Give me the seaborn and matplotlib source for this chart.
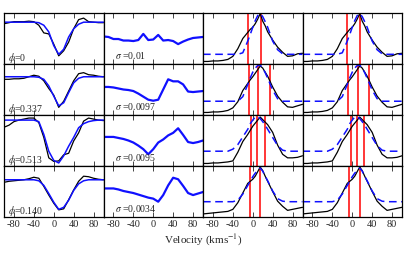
import matplotlib
matplotlib.use('Agg')
import matplotlib.pyplot as plt
import seaborn as sns

sns.set_theme(style='ticks')
plt.rcParams['font.family'] = ['Liberation Serif', 'DejaVu Serif']
plt.rcParams['mathtext.fontset'] = 'stix'
plt.rcParams['axes.unicode_minus'] = False

# velocity grids (km/s)
vel = [-100, -90, -80, -70, -60, -50, -40, -30, -20, -10, 0,
       10, 20, 30, 40, 50, 60, 70, 80, 90, 100]
vel_em = [-100, -90, -80, -70, -60, -50, -40, -30, -20, -10, -5, 0, 5,
          10, 15, 20, 25, 30, 40, 50, 60, 70, 80, 90, 100]

phases = ['0', '0.337', '0.513', '0.140']
sigmas = ['0.01', '0.0097', '0.0095', '0.0034']

# column 1: observed absorption profile (black) and model (blue)
obs_abs_0 = [0.79, 0.81, 0.83, 0.83, 0.83, 0.84, 0.83, 0.76, 0.61, 0.59, 0.39,
             0.16, 0.26, 0.43, 0.69, 0.87, 0.90, 0.83, 0.82, 0.81, 0.81]
mod_abs_0 = [0.82, 0.82, 0.82, 0.82, 0.82, 0.82, 0.82, 0.81, 0.76, 0.63, 0.36,
             0.19, 0.29, 0.53, 0.69, 0.78, 0.82, 0.82, 0.82, 0.82, 0.82]
obs_abs_1 = [0.70, 0.70, 0.71, 0.71, 0.72, 0.75, 0.78, 0.76, 0.67, 0.52, 0.39,
             0.15, 0.27, 0.47, 0.67, 0.81, 0.83, 0.79, 0.78, 0.76, 0.75]
mod_abs_1 = [0.75, 0.75, 0.75, 0.75, 0.75, 0.75, 0.75, 0.74, 0.70, 0.57, 0.37,
             0.18, 0.24, 0.44, 0.63, 0.72, 0.75, 0.75, 0.75, 0.75, 0.75]
obs_abs_2 = [0.76, 0.80, 0.87, 0.90, 0.92, 0.94, 0.94, 0.85, 0.56, 0.16, 0.09,
             0.10, 0.22, 0.25, 0.49, 0.65, 0.88, 0.94, 0.92, 0.90, 0.89]
mod_abs_2 = [0.90, 0.90, 0.90, 0.90, 0.90, 0.90, 0.90, 0.87, 0.62, 0.29, 0.11,
             0.06, 0.20, 0.39, 0.56, 0.75, 0.83, 0.87, 0.89, 0.90, 0.90]
obs_abs_3 = [0.68, 0.70, 0.71, 0.72, 0.73, 0.75, 0.78, 0.76, 0.60, 0.43, 0.27,
             0.14, 0.16, 0.34, 0.53, 0.70, 0.80, 0.79, 0.76, 0.74, 0.73]
mod_abs_3 = [0.73, 0.73, 0.73, 0.73, 0.73, 0.73, 0.73, 0.71, 0.62, 0.46, 0.29,
             0.15, 0.19, 0.33, 0.52, 0.65, 0.71, 0.73, 0.73, 0.73, 0.73]

# column 2: residuals
resid_0 = [0.54, 0.53, 0.49, 0.49, 0.46, 0.46, 0.45, 0.47, 0.59, 0.47, 0.48,
           0.57, 0.46, 0.47, 0.45, 0.39, 0.44, 0.48, 0.51, 0.52, 0.53]
resid_1 = [0.55, 0.55, 0.54, 0.52, 0.50, 0.49, 0.47, 0.42, 0.36, 0.30, 0.28,
           0.30, 0.50, 0.70, 0.66, 0.66, 0.60, 0.46, 0.45, 0.46, 0.47]
resid_2 = [0.57, 0.57, 0.57, 0.55, 0.53, 0.50, 0.46, 0.40, 0.33, 0.23, 0.33,
           0.46, 0.52, 0.60, 0.65, 0.74, 0.61, 0.47, 0.45, 0.47, 0.50]
resid_3 = [0.56, 0.56, 0.56, 0.54, 0.51, 0.49, 0.47, 0.44, 0.41, 0.38, 0.36,
           0.30, 0.43, 0.62, 0.77, 0.74, 0.61, 0.47, 0.43, 0.46, 0.49]

# columns 3/4: emission profile (black) and gaussian fit (blue dashed)
obs_em_0 = [0.05, 0.05, 0.06, 0.06, 0.07, 0.09, 0.15, 0.30, 0.50, 0.62, 0.68, 0.72, 0.79,
            0.88, 0.99, 0.84, 0.75, 0.63, 0.47, 0.33, 0.23, 0.15, 0.16, 0.20, 0.21]
fit_em_0 = [0.19, 0.19, 0.19, 0.19, 0.19, 0.19, 0.19, 0.19, 0.22, 0.45, 0.58, 0.72, 0.85,
            0.95, 0.99, 0.93, 0.83, 0.72, 0.45, 0.28, 0.20, 0.19, 0.19, 0.19, 0.19]
obs_em_1 = [0.05, 0.05, 0.06, 0.06, 0.07, 0.09, 0.14, 0.26, 0.48, 0.62, 0.69, 0.75, 0.82,
            0.89, 0.96, 0.92, 0.84, 0.76, 0.55, 0.37, 0.25, 0.16, 0.15, 0.18, 0.21]
fit_em_1 = [0.27, 0.27, 0.27, 0.27, 0.27, 0.27, 0.27, 0.27, 0.36, 0.60, 0.73, 0.84, 0.92,
            0.97, 0.98, 0.92, 0.83, 0.72, 0.49, 0.32, 0.27, 0.27, 0.27, 0.27, 0.27]
obs_em_2 = [0.05, 0.05, 0.06, 0.06, 0.07, 0.08, 0.10, 0.27, 0.48, 0.62, 0.70, 0.78, 0.84,
            0.90, 0.96, 0.91, 0.86, 0.81, 0.66, 0.41, 0.23, 0.16, 0.16, 0.17, 0.20]
fit_em_2 = [0.29, 0.29, 0.29, 0.29, 0.29, 0.29, 0.33, 0.42, 0.57, 0.72, 0.83, 0.90, 0.96,
            0.97, 0.93, 0.87, 0.80, 0.72, 0.56, 0.40, 0.31, 0.29, 0.29, 0.29, 0.29]
obs_em_3 = [0.06, 0.07, 0.08, 0.09, 0.10, 0.11, 0.15, 0.28, 0.47, 0.66, 0.70, 0.74, 0.80,
            0.89, 0.98, 0.91, 0.80, 0.70, 0.50, 0.31, 0.21, 0.13, 0.15, 0.17, 0.19]
fit_em_3 = [0.30, 0.30, 0.30, 0.30, 0.30, 0.30, 0.30, 0.33, 0.45, 0.62, 0.70, 0.79, 0.86,
            0.91, 0.96, 0.90, 0.80, 0.71, 0.51, 0.36, 0.31, 0.30, 0.30, 0.30, 0.30]

# component velocities (red lines)
comp_vel_0 = [-10, 16]
comp_vel_1 = [-8, 11, 34]
comp_vel_2 = [-3, 9, 24]
comp_vel_3 = [-6, 15]

obs_abs = [obs_abs_0, obs_abs_1, obs_abs_2, obs_abs_3]
mod_abs = [mod_abs_0, mod_abs_1, mod_abs_2, mod_abs_3]
resid = [resid_0, resid_1, resid_2, resid_3]
obs_em = [obs_em_0, obs_em_1, obs_em_2, obs_em_3]
fit_em = [fit_em_0, fit_em_1, fit_em_2, fit_em_3]
comp_vel = [comp_vel_0, comp_vel_1, comp_vel_2, comp_vel_3]

fig, axes = plt.subplots(4, 4, figsize=(4.07, 2.71), dpi=100, sharex=True)
fig.subplots_adjust(left=4/407, right=402/407, top=1-13/271, bottom=1-217/271,
                    wspace=0, hspace=0)

for i in range(4):
    ax = axes[i, 0]
    sns.lineplot(x=vel, y=obs_abs[i], ax=ax, color='black', lw=0.9)
    sns.lineplot(x=vel, y=mod_abs[i], ax=ax, color='#1010ff', lw=1.1)
    ax.text(0.04, 0.05, '$\\phi$=' + phases[i], transform=ax.transAxes, fontsize=7)

    ax = axes[i, 1]
    sns.lineplot(x=vel, y=resid[i], ax=ax, color='#1010ff', lw=1.6)
    ax.text(0.12, 0.1, '$\\sigma$ =' + sigmas[i], transform=ax.transAxes, fontsize=7)

    for j in (2, 3):
        ax = axes[i, j]
        for v in comp_vel[i]:
            ax.axvline(v, color='red', lw=1.1)
        sns.lineplot(x=vel_em, y=obs_em[i], ax=ax, color='black', lw=0.9)
        sns.lineplot(x=vel_em, y=fit_em[i], ax=ax, color='#1010ff', lw=1.1,
                     linestyle=(0, (5, 3)))

for ax in axes.flat:
    ax.set_xlim(-100, 100)
    ax.set_ylim(0, 1)
    ax.set_yticks([])
    ax.set_xticks([-80, -40, 0, 40, 80])
    ax.set_xlabel('')
    ax.set_ylabel('')
    ax.tick_params(axis='x', direction='in', top=True, bottom=True, length=3.5,
                   width=0.6, labelsize=7.5, pad=2.5)
    for s in ax.spines.values():
        s.set_visible(True)
        s.set_color('black')
        s.set_linewidth(0.9)

fig.text(0.5, 1-240/271, 'Velocity (kms$^{-1}$)', ha='center', va='center', fontsize=8)

plt.savefig('out.png', dpi=100)
